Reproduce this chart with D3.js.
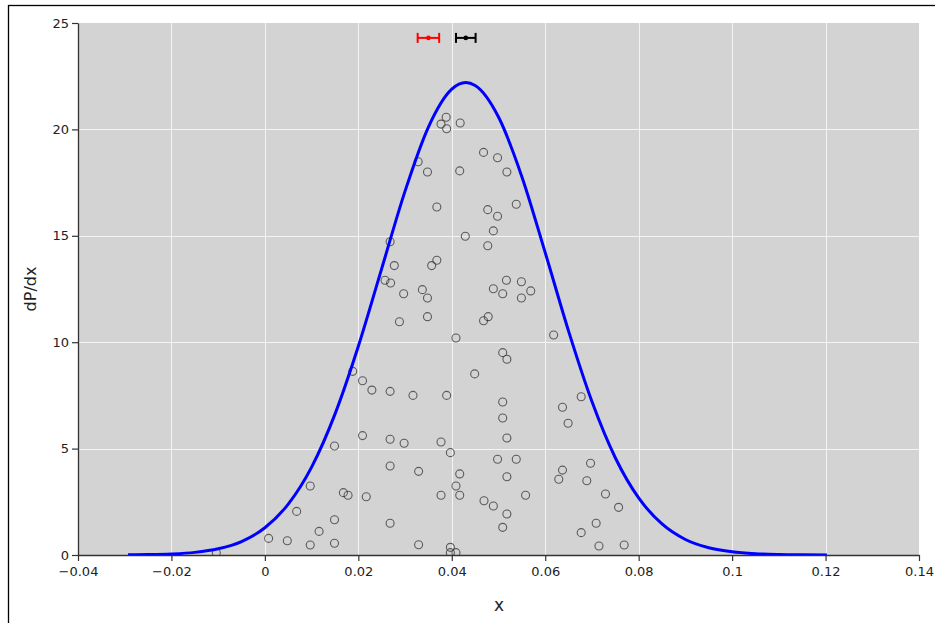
<!DOCTYPE html>
<html>
<head>
<meta charset="utf-8">
<script src="https://cdn.jsdelivr.net/npm/d3@7"></script>
<style>
  html, body { margin: 0; padding: 0; background: #fff; }
  svg { display: block; font-family: "DejaVu Sans", sans-serif; }
</style>
</head>
<body>
<svg id="chart" width="935" height="623"></svg>
<script>
// Sample positions (x) and their dP/dx heights
const sampleX = [
  0.0388, 0.0377, 0.0389, 0.0418, 0.0468, 0.0498, 0.0328, 0.0348, 0.0417, 0.0518,
  0.0368, 0.0477, 0.0498, 0.0538, 0.0489, 0.0429, 0.0477, 0.0268, 0.0277, 0.0368,
  0.0357, 0.0257, 0.0269, 0.0297, 0.0337, 0.0348, 0.0489, 0.0517, 0.0509, 0.0549,
  0.0569, 0.0549, 0.0288, 0.0348, 0.0468, 0.0478, 0.0409, 0.0618, 0.0188, 0.0209,
  0.0229, 0.0268, 0.0209, 0.0268, 0.0149, 0.0268, 0.0097, 0.0168, 0.0178, 0.0217,
  0.0068, 0.0149, 0.0268, 0.0116, 0.0008, 0.0048, 0.0097, 0.0149, -0.0104, 0.0509,
  0.0518, 0.0449, 0.0317, 0.0389, 0.0509, 0.0509, 0.0677, 0.0637, 0.0649, 0.0518,
  0.0298, 0.0377, 0.0397, 0.0498, 0.0538, 0.0329, 0.0417, 0.0518, 0.0409, 0.0377,
  0.0417, 0.0558, 0.0469, 0.0489, 0.0518, 0.0509, 0.0697, 0.0637, 0.0629, 0.0689,
  0.0709, 0.0677, 0.0715, 0.0329, 0.0397, 0.0397, 0.0409, 0.0729, 0.0757, 0.0769
];
const sampleY = [
  20.57, 20.25, 20.03, 20.30, 18.92, 18.67, 18.48, 18.00, 18.05, 18.00,
  16.35, 16.23, 15.92, 16.48, 15.23, 14.98, 14.53, 14.72, 13.60, 13.85,
  13.60, 12.91, 12.78, 12.28, 12.47, 12.08, 12.51, 12.91, 12.28, 12.84,
  12.41, 12.08, 10.96, 11.20, 11.01, 11.20, 10.20, 10.34, 8.63, 8.19,
  7.75, 7.69, 5.61, 5.44, 5.12, 4.18, 3.24, 2.93, 2.81, 2.74,
  2.05, 1.66, 1.49, 1.11, 0.78, 0.67, 0.47, 0.55, 0.11, 9.51,
  9.20, 8.51, 7.50, 7.50, 7.19, 6.44, 7.44, 6.94, 6.19, 5.50,
  5.25, 5.31, 4.81, 4.50, 4.50, 3.93, 3.81, 3.68, 3.24, 2.81,
  2.81, 2.81, 2.55, 2.30, 1.93, 1.30, 4.31, 3.99, 3.56, 3.49,
  1.49, 1.05, 0.42, 0.48, 0.36, 0.11, 0.11, 2.87, 2.24, 0.47
];

// Density curve dP/dx sampled along x
const curveX = [
  -0.0293, -0.025, -0.02, -0.015, -0.01, -0.005, 0, 0.005, 0.01, 0.015,
  0.02, 0.025, 0.03, 0.035, 0.04, 0.043, 0.045, 0.05, 0.055, 0.06,
  0.065, 0.07, 0.075, 0.08, 0.085, 0.09, 0.095, 0.1, 0.105, 0.11,
  0.115, 0.1203
];
const curveY = [
  0.007, 0.018, 0.049, 0.123, 0.291, 0.634, 1.281, 2.39, 4.13, 6.62,
  9.81, 13.46, 17.10, 20.11, 21.89, 22.20, 22.06, 20.58, 17.78, 14.21,
  10.52, 7.21, 4.57, 2.68, 1.46, 0.73, 0.34, 0.148, 0.059, 0.022,
  0.0074, 0.002
];

// Interval estimates drawn near the top: centre, half-width, height
const intervalNames = ["sample", "model"];
const intervalCenter = [0.0350, 0.0430];
const intervalHalf = [0.0023, 0.0021];
const intervalLevel = [24.3, 24.3];
const intervalColor = ["#ff0000", "#000000"];

// Axis ticks and their labels
const xTicks = [-0.04, -0.02, 0, 0.02, 0.04, 0.06, 0.08, 0.1, 0.12, 0.14];
const xTickLabels = ["\u22120.04", "\u22120.02", "0", "0.02", "0.04", "0.06", "0.08", "0.1", "0.12", "0.14"];
const yTicks = [0, 5, 10, 15, 20, 25];
const yTickLabels = ["0", "5", "10", "15", "20", "25"];

const svg = d3.select("#chart");
const W = 935, H = 623;
const plot = { left: 78, top: 23, right: 919, bottom: 555 };

// outer frame
svg.append("rect")
  .attr("x", 8.5).attr("y", 5.5)
  .attr("width", W + 10).attr("height", H + 10)
  .attr("fill", "none").attr("stroke", "#000").attr("stroke-width", 1.3);

const x = d3.scaleLinear().domain([-0.04, 0.14]).range([plot.left, plot.right]);
const y = d3.scaleLinear().domain([0, 25]).range([plot.bottom, plot.top]);

// plot background
svg.append("rect")
  .attr("x", plot.left).attr("y", plot.top)
  .attr("width", plot.right - plot.left).attr("height", plot.bottom - plot.top)
  .attr("fill", "#d3d3d3");

// grid
const grid = svg.append("g").attr("stroke", "#f4f4f4").attr("stroke-width", 1);
grid.selectAll("line.gx").data(xTicks.slice(1, -1)).join("line")
  .attr("x1", d => Math.round(x(d)) + 0.5).attr("x2", d => Math.round(x(d)) + 0.5)
  .attr("y1", plot.top).attr("y2", plot.bottom);
grid.selectAll("line.gy").data(yTicks.slice(1, -1)).join("line")
  .attr("y1", d => Math.round(y(d)) + 0.5).attr("y2", d => Math.round(y(d)) + 0.5)
  .attr("x1", plot.left).attr("x2", plot.right);

// axes
const xAxis = d3.axisBottom(x).tickValues(xTicks)
  .tickFormat((d, i) => xTickLabels[i]).tickSize(6).tickPadding(6).tickSizeOuter(0);
const yAxis = d3.axisLeft(y).tickValues(yTicks)
  .tickFormat((d, i) => yTickLabels[i]).tickSize(6).tickPadding(3).tickSizeOuter(0);

const gx = svg.append("g").attr("transform", `translate(0,${plot.bottom})`).call(xAxis);
const gy = svg.append("g").attr("transform", `translate(${plot.left},0)`).call(yAxis);
[gx, gy].forEach(g => {
  g.select(".domain").attr("stroke", "#333").attr("stroke-width", 1.3);
  g.selectAll(".tick line").attr("stroke", "#333").attr("stroke-width", 1.2);
  g.selectAll(".tick text").attr("fill", "#222").attr("font-size", 13)
    .attr("font-family", "DejaVu Sans, sans-serif");
});

// axis titles
svg.append("text").attr("x", (plot.left + plot.right) / 2 + 0.5).attr("y", 611)
  .attr("text-anchor", "middle").attr("font-size", 17).attr("fill", "#222").text("x");
svg.append("text")
  .attr("transform", `translate(36,${(plot.top + plot.bottom) / 2}) rotate(-90)`)
  .attr("text-anchor", "middle").attr("font-size", 16).attr("fill", "#222").text("dP/dx");

// clip region for plotted marks
svg.append("clipPath").attr("id", "plotclip").append("rect")
  .attr("x", plot.left).attr("y", plot.top)
  .attr("width", plot.right - plot.left).attr("height", plot.bottom - plot.top);

const marks = svg.append("g").attr("clip-path", "url(#plotclip)");

// sample points as open circles
marks.append("g").selectAll("circle").data(d3.range(sampleX.length)).join("circle")
  .attr("cx", i => x(sampleX[i])).attr("cy", i => y(sampleY[i]))
  .attr("r", 4)
  .attr("fill", "none").attr("stroke", "#333").attr("stroke-opacity", 0.75)
  .attr("stroke-width", 1.1);

// density curve
const line = d3.line().x(d => x(d[0])).y(d => y(d[1])).curve(d3.curveMonotoneX);
marks.append("path")
  .datum(d3.zip(curveX, curveY))
  .attr("d", line)
  .attr("fill", "none").attr("stroke", "#0000ff").attr("stroke-width", 3)
  .attr("stroke-linejoin", "round");

// interval bars
const bars = marks.append("g");
intervalNames.forEach((name, i) => {
  const g = bars.append("g").attr("stroke", intervalColor[i]).attr("fill", intervalColor[i])
    .attr("stroke-width", 2);
  const cy = y(intervalLevel[i]);
  const x0 = x(intervalCenter[i] - intervalHalf[i]);
  const x1 = x(intervalCenter[i] + intervalHalf[i]);
  g.append("line").attr("x1", x0).attr("x2", x1).attr("y1", cy).attr("y2", cy);
  g.append("line").attr("x1", x0).attr("x2", x0).attr("y1", cy - 5).attr("y2", cy + 5);
  g.append("line").attr("x1", x1).attr("x2", x1).attr("y1", cy - 5).attr("y2", cy + 5);
  g.append("circle").attr("cx", x(intervalCenter[i])).attr("cy", cy).attr("r", 2.3).attr("stroke", "none");
});
</script>
</body>
</html>
